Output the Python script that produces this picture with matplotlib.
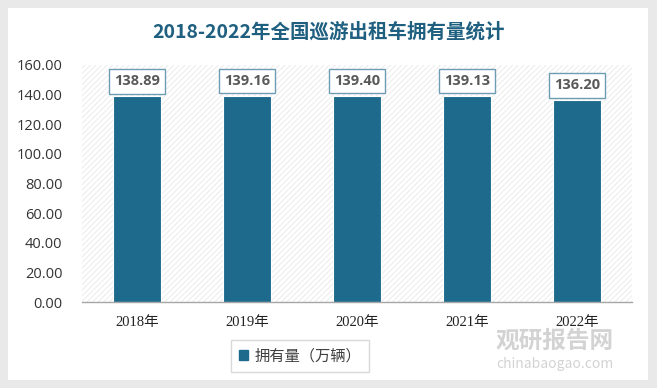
import matplotlib
matplotlib.use("Agg")
import matplotlib.pyplot as plt
from matplotlib.patches import Rectangle

plt.rcParams['font.family'] = ['Noto Sans CJK SC', 'DejaVu Sans']
plt.rcParams['hatch.linewidth'] = 0.5

categories = ["2018年", "2019年", "2020年", "2021年", "2022年"]
values = [138.89, 139.16, 139.40, 139.13, 136.20]
series_name = "拥有量（万辆）"
title = "2018-2022年全国巡游出租车拥有量统计"
yticks = [0, 20, 40, 60, 80, 100, 120, 140, 160]

bar_color = "#1d6a8c"
title_color = "#1f5f7f"

fig = plt.figure(figsize=(6.57, 3.88), dpi=100)
fig.patch.set_facecolor("#e9e9e9")
fig.add_artist(Rectangle((8/657, 8/388), 640/657, 372/388, transform=fig.transFigure,
                         facecolor="white", edgecolor="none", zorder=0))

ax = fig.add_axes([82/657, 86/388, 550/657, 237/388])
ax.set_facecolor("white")
ax.add_patch(Rectangle((0, 0), 1, 1, transform=ax.transAxes, hatch="//////",
                       edgecolor="#e4e4e4", facecolor="white", linewidth=0, zorder=0))

x = list(range(len(categories)))
ax.bar(x, values, width=0.43, color=bar_color, edgecolor="white", linewidth=0.8, zorder=2)
for xi, v in zip(x, values):
    ax.text(xi, v + 10, f"{v:.2f}", ha="center", va="center", fontsize=10.5,
            fontweight="bold", color="#595959", family=["Open Sans", "DejaVu Sans"],
            bbox=dict(boxstyle="square,pad=0.35", facecolor="white", edgecolor="#6e9db3", linewidth=1),
            zorder=4)

ax.set_xlim(-0.5, 4.5)
ax.set_ylim(0, 160)
ax.set_yticks(yticks)
ax.set_yticklabels([f"{t:.2f}" for t in yticks], fontsize=10.5, color="#333333",
                   family=["Open Sans", "DejaVu Sans"])
ax.set_xticks(x)
ax.set_xticklabels(categories, fontsize=10.5, color="#222222",
                   family=["Liberation Serif", "Noto Sans CJK SC"])
ax.tick_params(axis="both", length=0)
ax.tick_params(axis="x", pad=10)
ax.tick_params(axis="y", pad=14)
for s in ["top", "right", "left"]:
    ax.spines[s].set_visible(False)
ax.spines["bottom"].set_color("#a6a6a6")
ax.spines["bottom"].set_linewidth(1)

fig.text(0.5, 1 - 32/388, title, ha="center", va="center", fontsize=14, fontweight="bold",
         color=title_color)

leg = fig.legend([Rectangle((0, 0), 1, 1, color=bar_color)], [series_name],
                 loc="center", bbox_to_anchor=(300/657, 1 - 356/388), fontsize=11,
                 frameon=True, fancybox=False, edgecolor="#d0d0d0", handlelength=0.6,
                 handleheight=0.6, handletextpad=0.4, borderpad=0.5)
for t in leg.get_texts():
    t.set_color("#404040")

# watermark
fig.text(555/657, 1 - 341/388, "观研报告网", ha="center", va="center", fontsize=17,
         fontweight="bold", color="#c8c8c8", alpha=0.8, zorder=5)
fig.text(555/657, 1 - 364/388, "chinabaogao.com", ha="center", va="center", fontsize=10,
         color="#c8c8c8", alpha=0.8, zorder=5)

fig.savefig("out.png", dpi=100, facecolor=fig.get_facecolor())
